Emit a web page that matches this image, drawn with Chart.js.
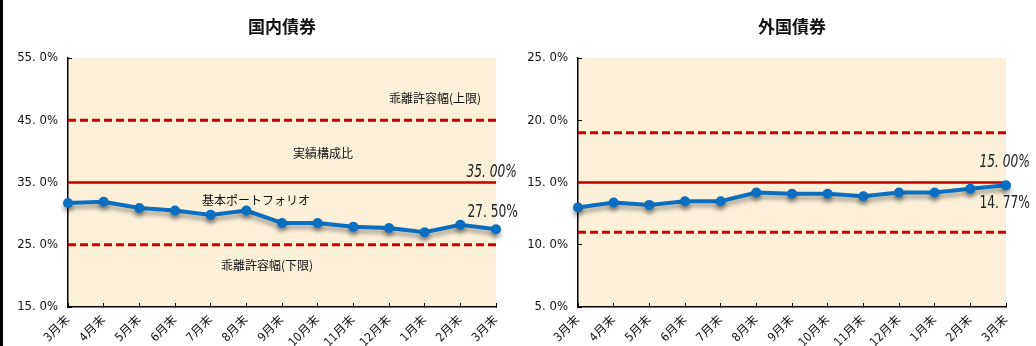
<!DOCTYPE html>
<html lang="ja">
<head>
<meta charset="utf-8">
<script src="https://cdn.jsdelivr.net/npm/chart.js@4.4.1/dist/chart.umd.min.js"></script>
<style>
    body { margin: 0; background: #fff; width: 1036px; height: 346px; overflow: hidden; position: relative; }
    #edge { position: absolute; left: 0; top: 0; width: 3px; height: 346px; background: #000; }
    canvas { position: absolute; top: 0; }
    #domestic { left: 0; }
    #foreign { left: 518px; }
</style>
</head>
<body>
<div id="edge"></div>
<canvas id="domestic" width="518" height="346"></canvas>
<canvas id="foreign" width="518" height="346"></canvas>
<script>
const months = ['3月末', '4月末', '5月末', '6月末', '7月末', '8月末', '9月末', '10月末', '11月末', '12月末', '1月末', '2月末', '3月末'];

// 国内債券
const domesticActual = [31.7, 31.9, 30.9, 30.5, 29.8, 30.5, 28.5, 28.5, 27.9, 27.7, 27.0, 28.2, 27.5];
const domesticBase = 35;
const domesticUpper = 45;
const domesticLower = 25;
const domesticTicks = [15, 25, 35, 45, 55];

// 外国債券
const foreignActual = [13.0, 13.4, 13.2, 13.5, 13.5, 14.2, 14.1, 14.1, 13.9, 14.2, 14.2, 14.5, 14.77];
const foreignBase = 15;
const foreignUpper = 19;
const foreignLower = 11;
const foreignTicks = [5, 10, 15, 20, 25];

const NUM_FONT = '"Liberation Sans Narrow", "DejaVu Sans Condensed", "Noto Sans CJK JP", sans-serif';
const JP_FONT = '"Noto Sans CJK JP", sans-serif';

function fmt(v, digits) {
    return v.toFixed(digits).replace('.', '. ') + '%';
}

// background of plot area, title, notes and value labels
const framePlugin = {
    id: 'frame',
    beforeDraw(chart) {
        const { ctx, chartArea: a } = chart;
        ctx.save();
        ctx.fillStyle = '#fcf0d8';
        ctx.fillRect(a.left, a.top, a.right - a.left, a.bottom - a.top);
        ctx.restore();
    },
    afterDraw(chart, args, opts) {
        const { ctx, chartArea: a } = chart;
        const y = chart.scales.y;
        ctx.save();
        ctx.fillStyle = '#111';
        ctx.textAlign = 'center';
        ctx.textBaseline = 'middle';
        ctx.font = 'bold 17px ' + JP_FONT;
        ctx.fillText(opts.title, (a.left + a.right) / 2, 27);

        ctx.font = '12px ' + JP_FONT;
        (opts.notes || []).forEach(n => ctx.fillText(n.text, n.x, n.y));

        ctx.fillStyle = '#222';
        ctx.textAlign = 'right';
        (opts.values || []).forEach(v => {
            ctx.save();
            ctx.translate(a.right + v.dx, y.getPixelForValue(v.value) + v.dy);
            ctx.scale(0.72, 1);
            ctx.font = (v.italic ? 'italic ' : '') + '17px "DejaVu Sans", sans-serif';
            ctx.fillText(fmt(v.value, 2), 0, 0);
            ctx.restore();
        });
        ctx.restore();
    }
};

// soft drop shadow under the actual series
const shadowPlugin = {
    id: 'lineShadow',
    beforeDatasetDraw(chart, args) {
        if (args.index !== 0) return;
        const ctx = chart.ctx;
        ctx.save();
        ctx.shadowColor = 'rgba(0, 0, 0, 0.35)';
        ctx.shadowBlur = 4;
        ctx.shadowOffsetY = 4;
    },
    afterDatasetDraw(chart, args) {
        if (args.index !== 0) return;
        chart.ctx.restore();
    }
};

function makeChart(id, cfg) {
    const flat = v => months.map(() => v);
    new Chart(document.getElementById(id), {
        type: 'line',
        data: {
            labels: months,
            datasets: [
                {
                    label: '実績構成比',
                    data: cfg.actual,
                    borderColor: '#0a6fc2',
                    backgroundColor: '#0a6fc2',
                    borderWidth: 4,
                    pointRadius: 5,
                    pointBorderWidth: 0,
                    tension: 0,
                    clip: false
                },
                {
                    label: '基本ポートフォリオ',
                    data: flat(cfg.base),
                    borderColor: '#c00000',
                    borderWidth: 2.5,
                    pointRadius: 0
                },
                {
                    label: '乖離許容幅(上限)',
                    data: flat(cfg.upper),
                    borderColor: '#cc0000',
                    borderWidth: 3,
                    borderDash: [8, 4],
                    pointRadius: 0
                },
                {
                    label: '乖離許容幅(下限)',
                    data: flat(cfg.lower),
                    borderColor: '#cc0000',
                    borderWidth: 3,
                    borderDash: [8, 4],
                    pointRadius: 0
                }
            ]
        },
        options: {
            responsive: false,
            animation: false,
            layout: { padding: { top: 58, right: cfg.padRight, bottom: 0, left: 0 } },
            scales: {
                x: {
                    offset: false,
                    grid: { drawOnChartArea: false, drawTicks: true, tickLength: -4, color: '#000', offset: false },
                    border: { color: '#000', width: 1.5 },
                    ticks: {
                        autoSkip: false,
                        minRotation: 45,
                        maxRotation: 45,
                        padding: 10,
                        color: '#111',
                        font: { size: 12, family: NUM_FONT }
                    },
                    afterFit(scale) { scale.height = 39; scale.paddingLeft = 0; scale.paddingRight = 0; }
                },
                y: {
                    min: cfg.ticks[0],
                    max: cfg.ticks[cfg.ticks.length - 1],
                    afterBuildTicks(scale) { scale.ticks = cfg.ticks.map(v => ({ value: v })); },
                    grid: { drawOnChartArea: false, drawTicks: true, tickLength: -4, color: '#000' },
                    border: { color: '#000', width: 1.5 },
                    ticks: {
                        padding: 14,
                        color: '#111',
                        font: { size: 13, family: NUM_FONT },
                        callback: v => fmt(v, 1)
                    },
                    afterFit(scale) { scale.width = cfg.yWidth; }
                }
            },
            plugins: {
                legend: { display: false },
                tooltip: { enabled: false },
                title: { display: false },
                frame: { title: cfg.title, notes: cfg.notes, values: cfg.values }
            }
        },
        plugins: [framePlugin, shadowPlugin]
    });
}

makeChart('domestic', {
    title: '国内債券',
    actual: domesticActual,
    base: domesticBase,
    upper: domesticUpper,
    lower: domesticLower,
    ticks: domesticTicks,
    yWidth: 68,
    padRight: 22,
    notes: [
        { text: '乖離許容幅(上限)', x: 435, y: 98 },
        { text: '実績構成比', x: 323, y: 153 },
        { text: '基本ポートフォリオ', x: 256, y: 200 },
        { text: '乖離許容幅(下限)', x: 267, y: 265 }
    ],
    values: [
        { value: domesticBase, italic: true, dx: 21, dy: -10 },
        { value: domesticActual[domesticActual.length - 1], italic: false, dx: 22, dy: -17 }
    ]
});

makeChart('foreign', {
    title: '外国債券',
    actual: foreignActual,
    base: foreignBase,
    upper: foreignUpper,
    lower: foreignLower,
    ticks: foreignTicks,
    yWidth: 60,
    padRight: 30,
    notes: [],
    values: [
        { value: foreignBase, italic: true, dx: 24, dy: -20 },
        { value: foreignActual[foreignActual.length - 1], italic: false, dx: 24, dy: 18 }
    ]
});
</script>
</body>
</html>
